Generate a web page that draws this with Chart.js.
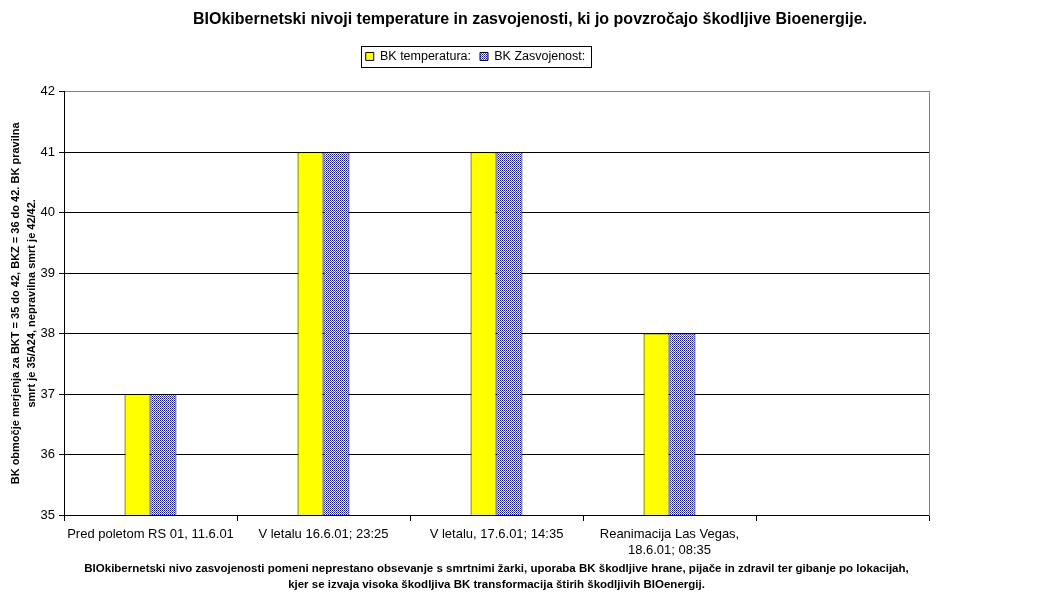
<!DOCTYPE html>
<html><head><meta charset="utf-8">
<script src="https://cdn.jsdelivr.net/npm/chart.js@4.4.0/dist/chart.umd.min.js"></script>
<style>html,body{margin:0;padding:0;background:#fff}</style>
</head><body>
<canvas id="c" width="1060" height="600" style="width:1060px;height:600px;display:block"></canvas>
<script>
const chartTitle = 'BIOkibernetski nivoji temperature in zasvojenosti, ki jo povzročajo škodljive Bioenergije.';
const categories = ['Pred poletom RS 01, 11.6.01', 'V letalu 16.6.01; 23:25', 'V letalu, 17.6.01; 14:35', ['Reanimacija Las Vegas,', '18.6.01; 08:35'], ''];
const seriesNames = ['BK temperatura:', 'BK Zasvojenost:'];
const temperatura = [37, 41, 41, 38, null];
const zasvojenost = [37, 41, 41, 38, null];
const yMin = 35, yMax = 42, yStep = 1;
const yTitle = ['BK območje merjenja za BKT = 35 do 42, BKZ = 36 do 42. BK pravilna', 'smrt je 35/A24, nepravilna smrt je 42/42.'];
const xTitle = ['BIOkibernetski nivo zasvojenosti pomeni neprestano obsevanje s smrtnimi žarki, uporaba BK škodljive hrane, pijače in zdravil ter gibanje po lokacijah,', 'kjer se izvaja visoka škodljiva BK transformacija štirih škodljivih BIOenergij.'];

const canvas = document.getElementById('c');
const ctx = canvas.getContext('2d');

// checker pattern for second series
const pc = document.createElement('canvas');
pc.width = 4; pc.height = 4;
const p = pc.getContext('2d');
p.fillStyle = '#ffffff'; p.fillRect(0, 0, 4, 4);
for (let y = 0; y < 4; y++) for (let x = 0; x < 4; x++) {
  if ((x + y) % 2 === 0) { p.fillStyle = (y % 2 === 0) ? '#0000FF' : '#FF00FF'; p.fillRect(x, y, 1, 1); }
}
const pattern = ctx.createPattern(pc, 'repeat');

const FONT = "'Liberation Sans', Arial, sans-serif";

const legendPlugin = {
  id: 'legendTweak',
  afterLayout(chart) {
    const lg = chart.legend;
    const dx = 475.5 - (lg.left + lg.right) / 2;
    lg.left += dx; lg.right += dx;
  },
  afterDraw(chart) {
    const hb = chart.legend.legendHitBoxes;
    if (!hb || !hb.length) return;
    const c = chart.ctx;
    const last = hb[hb.length - 1];
    const x1 = Math.round(hb[0].left - 5) + 0.5;
    const x2 = Math.round(last.left + last.width + 6) + 0.5;
    const cy = hb[0].top + hb[0].height / 2;
    const y1 = Math.round(cy - 10.5) + 0.5;
    const y2 = Math.round(cy + 10.5) + 0.5;
    c.save();
    c.strokeStyle = '#000'; c.lineWidth = 1;
    c.strokeRect(x1, y1, x2 - x1, y2 - y1);
    c.restore();
  }
};

new Chart(ctx, {
  type: 'bar',
  data: {
    labels: categories,
    datasets: [
      { label: seriesNames[0], data: temperatura, backgroundColor: '#FFFF00', borderColor: '#000', borderWidth: 1, xAxisID: 'x', yAxisID: 'y', categoryPercentage: 0.3, barPercentage: 1.0 },
      { label: seriesNames[1], data: zasvojenost, backgroundColor: pattern, borderColor: '#000', borderWidth: 1, xAxisID: 'x', yAxisID: 'y', categoryPercentage: 0.3, barPercentage: 1.0 }
    ]
  },
  options: {
    responsive: false,
    animation: false,
    devicePixelRatio: 1,
    layout: { padding: 0 },
    plugins: {
      title: { display: true, text: chartTitle, color: '#000', font: { family: FONT, size: 16, weight: 'bold' }, padding: { top: 10, bottom: 12 } },
      legend: { display: true, position: 'top', labels: { color: '#000', boxWidth: 8, boxHeight: 8, padding: 9, font: { family: FONT, size: 12.5 } } },
      tooltip: { enabled: false }
    },
    scales: {
      x: {
        type: 'category', position: 'bottom', offset: true,
        grid: { offset: true, drawOnChartArea: false, drawTicks: true, tickLength: 6, color: '#000', tickColor: '#000' },
        border: { display: true, color: '#000', width: 1 },
        ticks: { color: '#000', font: { family: FONT, size: 13, lineHeight: 16 / 13 }, maxRotation: 0, minRotation: 0, autoSkip: false, padding: 5 },
        title: { display: true, text: xTitle, color: '#000', font: { family: FONT, size: 11.5, weight: 'bold', lineHeight: 16 / 11.5 }, padding: { top: 2, bottom: 7 } },
        afterFit(s) { s.height = 85; }
      },
      y: {
        type: 'linear', position: 'left', min: yMin, max: yMax,
        grid: { color: (c) => (c.tick && c.tick.value === yMax) ? '#808080' : '#000', tickColor: '#000', tickLength: 5, drawTicks: true },
        border: { display: true, color: '#000', width: 1 },
        ticks: { stepSize: yStep, color: '#000', font: { family: FONT, size: 13 }, padding: 4 },
        title: { display: true, text: yTitle, color: '#000', font: { family: FONT, size: 11, weight: 'bold', lineHeight: 16 / 11 }, padding: { top: 8, bottom: 0 } },
        afterFit(s) { s.width = 64; }
      },
      xTop: {
        type: 'linear', position: 'top', min: 0, max: 1, display: true,
        grid: { display: false, drawTicks: false }, ticks: { display: false }, border: { display: false },
        afterFit(s) { s.height = 19; }
      },
      yR: {
        type: 'linear', position: 'right', min: 0, max: 1, display: true,
        grid: { display: false, drawTicks: false }, ticks: { display: false }, border: { display: true, color: '#808080', width: 1 },
        afterFit(s) { s.width = 131; }
      }
    }
  },
  plugins: [legendPlugin]
});
</script>
</body></html>
